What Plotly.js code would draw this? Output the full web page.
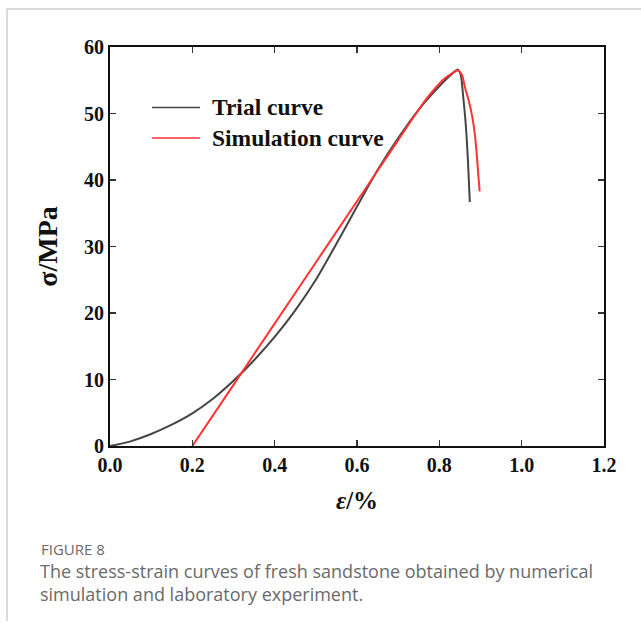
<!DOCTYPE html>
<html>
<head>
<meta charset="utf-8">
<script src="https://cdn.plot.ly/plotly-3.0.1.min.js"></script>
<style>
  html, body { margin: 0; padding: 0; background: #fff; }
  #chart { width: 641px; height: 627px; }
</style>
</head>
<body>
<div id="chart"></div>
<script>
// Laboratory (trial) stress-strain curve: strain in %, stress in MPa
const trialStrain = [0, 0.025, 0.05, 0.10, 0.15, 0.20, 0.25, 0.30, 0.35, 0.40, 0.45, 0.50, 0.55, 0.60, 0.65, 0.70, 0.75, 0.80, 0.83, 0.845, 0.852, 0.858, 0.864, 0.869, 0.872, 0.874];
const trialStress = [0, 0.32, 0.7, 1.8, 3.2, 4.9, 7.1, 9.8, 12.9, 16.4, 20.4, 25.0, 30.4, 36.0, 41.5, 46.3, 50.6, 54.1, 55.9, 56.6, 55.8, 52.5, 48.5, 43.5, 39.5, 36.7];

// Numerical simulation curve
const simStrain = [0.20, 0.30, 0.40, 0.50, 0.60, 0.70, 0.74, 0.77, 0.79, 0.81, 0.83, 0.845, 0.855, 0.862, 0.872, 0.880, 0.886, 0.892, 0.895, 0.898];
const simStress = [0, 9.2, 18.4, 27.6, 36.8, 46.0, 49.7, 52.3, 53.8, 55.1, 56.0, 56.5, 55.8, 54.0, 51.8, 49.5, 47.0, 43.0, 40.5, 38.3];

const xTicks = [0, 0.2, 0.4, 0.6, 0.8, 1.0, 1.2];
const xTickText = ['0.0', '0.2', '0.4', '0.6', '0.8', '1.0', '1.2'];
const yTicks = [0, 10, 20, 30, 40, 50, 60];

const seriesNames = ['Trial curve', 'Simulation curve'];
const seriesColors = ['#454545', '#ff3333'];

const caption = 'FIGURE 8';
const captionText = 'The stress-strain curves of fresh sandstone obtained by numerical<br>simulation and laboratory experiment.';

const serif = 'Liberation Serif, Times New Roman, serif';

const traces = [
  { x: trialStrain, y: trialStress, name: seriesNames[0], mode: 'lines',
    line: { color: seriesColors[0], width: 2, shape: 'spline', smoothing: 0.7 } },
  { x: simStrain, y: simStress, name: seriesNames[1], mode: 'lines',
    line: { color: seriesColors[1], width: 2, shape: 'spline', smoothing: 0.6 } }
];

const axisCommon = {
  showgrid: false, zeroline: false,
  showline: true, linecolor: '#111', linewidth: 2, mirror: 'ticks',
  ticks: 'inside', ticklen: 6, tickwidth: 1.5, tickcolor: '#333',
  tickfont: { family: serif, size: 20, color: '#111', weight: 'bold' }
};

// Hand-placed legend: a short line sample plus a bold label per series
const legendShapes = [];
const legendNotes = [];
seriesNames.forEach((name, i) => {
  const yPix = 107.5 + i * 30.5;
  const yPaper = 1 - (yPix - 47) / 399;
  legendShapes.push({ type: 'line', xref: 'paper', yref: 'paper',
    x0: (152 - 110) / 494, x1: (200 - 110) / 494, y0: yPaper, y1: yPaper,
    line: { color: seriesColors[i], width: 1.5 } });
  legendNotes.push({ xref: 'paper', yref: 'paper', x: (210 - 110) / 494, y: yPaper,
    xanchor: 'left', yanchor: 'middle', showarrow: false, text: name,
    font: { family: serif, size: 23.5, color: '#111', weight: 'bold' } });
});

const frameShapes = [
  { type: 'line', xref: 'paper', yref: 'paper',
    x0: (7 - 110) / 494, x1: (641 - 110) / 494, y0: 1 + (47 - 9) / 399, y1: 1 + (47 - 9) / 399,
    line: { color: '#cfcfcf', width: 1.5 } },
  { type: 'line', xref: 'paper', yref: 'paper',
    x0: (7 - 110) / 494, x1: (7 - 110) / 494, y0: 1 + (47 - 9) / 399, y1: 1 - (621 - 47) / 399,
    line: { color: '#cfcfcf', width: 1.5 } }
];

const captionNotes = [
  { xref: 'paper', yref: 'paper', x: (39 - 110) / 494, y: 1 - (549 - 47) / 399,
    xanchor: 'left', yanchor: 'middle', showarrow: false, text: caption,
    font: { family: 'Open Sans, sans-serif', size: 15, color: '#6a6a6a' } },
  { xref: 'paper', yref: 'paper', x: (38 - 110) / 494, y: 1 - (582 - 47) / 399,
    xanchor: 'left', yanchor: 'middle', align: 'left', showarrow: false, text: captionText,
    font: { family: 'Open Sans, sans-serif', size: 18, color: '#6a6a6a' } }
];

const layout = {
  width: 641, height: 627,
  margin: { l: 110, r: 37, t: 47, b: 181 },
  paper_bgcolor: '#fff', plot_bgcolor: '#fff',
  showlegend: false,
  xaxis: Object.assign({}, axisCommon, {
    range: [0, 1.2], tickvals: xTicks, ticktext: xTickText,
    title: { text: '<i>ε</i>/%', standoff: 16,
      font: { family: serif, size: 25, color: '#111', weight: 'bold' } }
  }),
  yaxis: Object.assign({}, axisCommon, {
    range: [0, 60], tickvals: yTicks,
    title: { text: 'σ/MPa', standoff: 18,
      font: { family: serif, size: 28, color: '#111', weight: 'bold' } }
  }),
  shapes: legendShapes.concat(frameShapes),
  annotations: legendNotes.concat(captionNotes)
};

Plotly.newPlot('chart', traces, layout, { staticPlot: true, displayModeBar: false });
</script>
</body>
</html>
